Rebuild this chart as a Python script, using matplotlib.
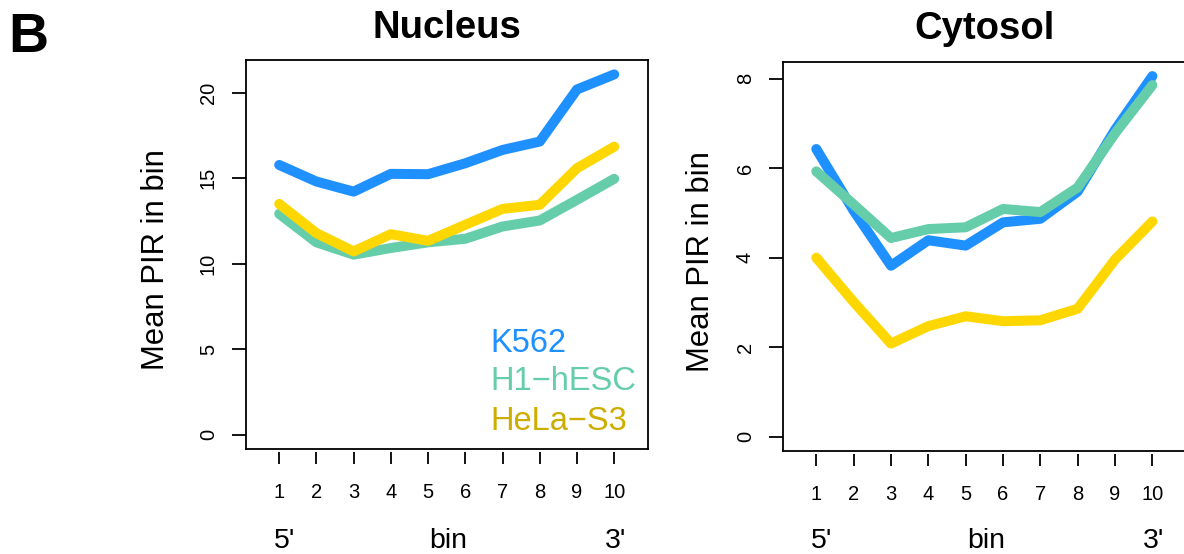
import matplotlib
matplotlib.use("Agg")
import matplotlib.pyplot as plt
import matplotlib.transforms as mtransforms

plt.rcParams['font.family'] = ['Liberation Sans', 'DejaVu Sans']

bins = [1, 2, 3, 4, 5, 6, 7, 8, 9, 10]
bin_labels = ["1", "2", "3", "4", "5", "6", "7", "8", "9", "10"]
series_names = ["K562", "H1\u2212hESC", "HeLa\u2212S3"]
line_colors = ["#1E90FF", "#66CDAA", "#FFD700"]
text_colors = ["#1E90FF", "#66CDAA", "#CDAD00"]

nucleus_k562 = [15.78, 14.81, 14.22, 15.26, 15.24, 15.88, 16.66, 17.15, 20.20, 21.08]
nucleus_h1 = [12.92, 11.25, 10.53, 10.92, 11.25, 11.46, 12.18, 12.53, 13.74, 14.97]
nucleus_hela = [13.50, 11.79, 10.72, 11.73, 11.34, 12.28, 13.21, 13.45, 15.59, 16.85]

cytosol_k562 = [6.43, 5.05, 3.82, 4.39, 4.27, 4.79, 4.87, 5.48, 6.86, 8.06]
cytosol_h1 = [5.93, 5.19, 4.44, 4.64, 4.68, 5.09, 5.02, 5.57, 6.78, 7.86]
cytosol_hela = [4.00, 3.01, 2.08, 2.47, 2.69, 2.58, 2.60, 2.86, 3.96, 4.81]

nucleus_yticks = [0, 5, 10, 15, 20]
cytosol_yticks = [0, 2, 4, 6, 8]

W, H = 1184, 554
fig = plt.figure(figsize=(W / 100, H / 100), dpi=100)

panels = [
    dict(title="Nucleus", data=[nucleus_k562, nucleus_h1, nucleus_hela],
         yticks=nucleus_yticks, rect=(245.7, 60, 647.7, 449), legend=True,
         ylabel_x=156),
    dict(title="Cytosol", data=[cytosol_k562, cytosol_h1, cytosol_hela],
         yticks=cytosol_yticks, rect=(782.7, 61.7, 1186, 451), legend=False,
         ylabel_x=701),
]

for p in panels:
    x0, y0, x1, y1 = p["rect"]
    ax = fig.add_axes([x0 / W, 1 - y1 / H, (x1 - x0) / W, (y1 - y0) / H])
    for vals, c in zip(p["data"], line_colors):
        ax.plot(bins, vals, color=c, lw=7.2, solid_capstyle='round',
                solid_joinstyle='round')
    top = max(max(v) for v in p["data"])
    ext = 0.04 * top
    ax.set_ylim(-ext, top + ext)
    ax.set_xlim(0.1, 10.9)
    for s in ax.spines.values():
        s.set_linewidth(1.3)
    ax.set_xticks([])
    ax.set_yticks(p["yticks"])
    ax.set_yticklabels([str(t) for t in p["yticks"]])
    ax.tick_params(axis='y', length=10, width=1.3, pad=10, labelsize=14.5,
                   labelrotation=90)
    for lab in ax.get_yticklabels():
        lab.set_va('center')
    sec = ax.secondary_xaxis(-0.008)
    sec.spines['bottom'].set_visible(False)
    sec.set_xticks(bins)
    sec.set_xticklabels(bin_labels)
    sec.tick_params(axis='x', length=8.5, width=1.3, pad=14, labelsize=14.5)

    ax.set_title(p["title"], fontsize=27.5, fontweight='bold', pad=16)

    ax.text((p["ylabel_x"] - x0) / (x1 - x0), 0.486, "Mean PIR in bin",
            rotation=90, ha='center', va='center', fontsize=22.3,
            transform=ax.transAxes)

    tr = mtransforms.blended_transform_factory(ax.transData, fig.transFigure)
    yb = 1 - 548 / H
    ax.text(1.14, yb, "5'", ha='center', va='baseline', fontsize=20.5, transform=tr)
    ax.text(5.55, yb, "bin", ha='center', va='baseline', fontsize=20.5, transform=tr)
    ax.text(10.03, yb, "3'", ha='center', va='baseline', fontsize=20.5, transform=tr)

    if p["legend"]:
        baselines = [351.7, 390.5, 430.0]
        for name, c, yb_px in zip(series_names, text_colors, baselines):
            ax.text((490.5 - x0) / (x1 - x0), (y1 - yb_px) / (y1 - y0), name,
                    color=c, fontsize=23.5, ha='left', va='baseline',
                    transform=ax.transAxes)

fig.text(8 / W, 1 - 52 / H, "B", fontsize=40, fontweight='bold',
         ha='left', va='baseline')

fig.savefig("out.png", dpi=100)
